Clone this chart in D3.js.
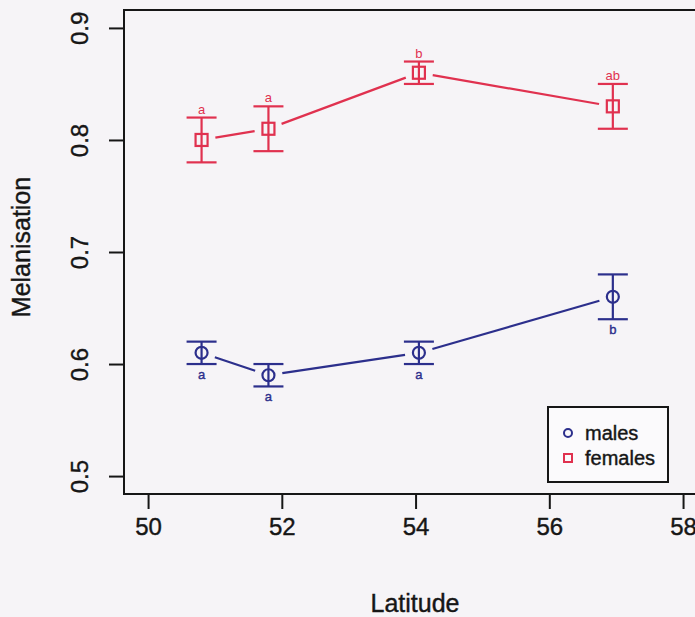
<!DOCTYPE html>
<html>
<head>
<meta charset="utf-8">
<script src="https://cdn.jsdelivr.net/npm/d3@7"></script>
<style>
    body { margin: 0; background: #f6f4f7; }
    svg { display: block; font-family: "Liberation Sans", Arial, sans-serif; }
</style>
</head>
<body>
<div id="chart"></div>
<script>
const latitudes = [50.8, 51.8, 54.05, 56.95]
const malesMean = [0.61, 0.59, 0.61, 0.66]
const malesSE = [0.01, 0.01, 0.01, 0.02]
const malesLetters = ["a", "a", "a", "b"]
const femalesMean = [0.80, 0.81, 0.86, 0.83]
const femalesSE = [0.02, 0.02, 0.01, 0.02]
const femalesLetters = ["a", "a", "b", "ab"]
const xTicks = [50, 52, 54, 56, 58]
const yTicks = [0.5, 0.6, 0.7, 0.8, 0.9]
const seriesNames = ["males", "females"]

const w = 695
const h = 617
const red = "#e0314f"
const blue = "#2c2f8c"
const ink = "#161616"

const xScale = d3.scaleLinear()
    .domain([49.64, 59.36])
    .range([124, 774])

const yScale = d3.scaleLinear()
    .domain([0.484, 0.916])
    .range([494, 10])

const svg = d3.select("#chart")
    .append("svg")
    .attr("width", w)
    .attr("height", h)

const xAxis = d3.axisBottom(xScale)
    .tickValues(xTicks)
    .tickFormat(d3.format("d"))
    .tickSize(15)
    .tickPadding(9)

const yAxis = d3.axisLeft(yScale)
    .tickValues(yTicks)
    .tickFormat(d3.format(".1f"))
    .tickSize(15)

// the photo makes every glyph a little heavier
const heavy = sel => sel.attr("stroke", ink).attr("stroke-width", 0.4)

svg.append("g")
    .attr("transform", "translate(0," + yScale.range()[0] + ")")
    .call(xAxis)
    .call(g => g.select(".domain").remove())
    .call(g => g.selectAll("line").attr("stroke", ink).attr("stroke-width", 2))
    .call(g => g.selectAll("text").attr("fill", ink).style("font-size", "24px").call(heavy))

svg.append("g")
    .attr("transform", "translate(" + xScale.range()[0] + ",0)")
    .call(yAxis)
    .call(g => g.select(".domain").remove())
    .call(g => g.selectAll("line").attr("stroke", ink).attr("stroke-width", 2))
    .call(g => g.selectAll("text")
        .attr("fill", ink)
        .style("font-size", "24px")
        .attr("text-anchor", "middle")
        .attr("transform", "rotate(-90)")
        .attr("x", 0)
        .attr("y", -36)
        .attr("dy", 0)
        .call(heavy))

// plot box, runs off the right edge like the photo
svg.append("rect")
    .attr("x", xScale.range()[0])
    .attr("y", yScale.range()[1])
    .attr("width", xScale.range()[1] - xScale.range()[0])
    .attr("height", yScale.range()[0] - yScale.range()[1])
    .attr("fill", "none")
    .attr("stroke", ink)
    .attr("stroke-width", 2)

svg.append("text")
    .attr("x", 415)
    .attr("y", 612)
    .attr("text-anchor", "middle")
    .attr("fill", ink)
    .style("font-size", "25px")
    .call(heavy)
    .text("Latitude")

svg.append("text")
    .attr("transform", "translate(30,247) rotate(-90)")
    .attr("text-anchor", "middle")
    .attr("fill", ink)
    .style("font-size", "25px")
    .call(heavy)
    .text("Melanisation")

const drawSeries = (means, ses, letters, color, shape, above) => {
    const pts = latitudes.map((lat, i) => ({ x: xScale(lat), y: yScale(means[i]), lo: yScale(means[i] - ses[i]), hi: yScale(means[i] + ses[i]), letter: letters[i] }))
    const g = svg.append("g")
    const gap = 14

    // type="b" style: segments stop short of the symbols
    for (let i = 0; i < pts.length - 1; i++) {
        const a = pts[i], b = pts[i + 1]
        const dx = b.x - a.x, dy = b.y - a.y
        const len = Math.sqrt(dx * dx + dy * dy)
        g.append("line")
            .attr("x1", a.x + dx / len * gap)
            .attr("y1", a.y + dy / len * gap)
            .attr("x2", b.x - dx / len * gap)
            .attr("y2", b.y - dy / len * gap)
            .attr("stroke", color)
            .attr("stroke-width", 2.2)
    }

    const bars = g.selectAll(".bar")
        .data(pts)
        .enter()
        .append("g")
        .attr("stroke", color)
        .attr("stroke-width", 2.2)
        .attr("fill", "none")

    bars.append("line")
        .attr("x1", d => d.x).attr("x2", d => d.x)
        .attr("y1", d => d.lo).attr("y2", d => d.hi)
    bars.append("line")
        .attr("x1", d => d.x - 15).attr("x2", d => d.x + 15)
        .attr("y1", d => d.lo).attr("y2", d => d.lo)
    bars.append("line")
        .attr("x1", d => d.x - 15).attr("x2", d => d.x + 15)
        .attr("y1", d => d.hi).attr("y2", d => d.hi)

    if (shape === "circle") {
        bars.append("circle")
            .attr("cx", d => d.x)
            .attr("cy", d => d.y)
            .attr("r", 6)
    } else {
        bars.append("rect")
            .attr("x", d => d.x - 6)
            .attr("y", d => d.y - 6)
            .attr("width", 12)
            .attr("height", 12)
    }

    g.selectAll(".letter")
        .data(pts)
        .enter()
        .append("text")
        .attr("x", d => d.x)
        .attr("y", d => above ? d.hi - 4 : d.lo + 15)
        .attr("text-anchor", "middle")
        .attr("fill", color)
        .attr("stroke", color)
        .attr("stroke-width", above ? 0 : 0.4)
        .style("font-size", "13px")
        .text(d => d.letter)
}

drawSeries(malesMean, malesSE, malesLetters, blue, "circle", false)
drawSeries(femalesMean, femalesSE, femalesLetters, red, "square", true)

const legend = svg.append("g")
    .attr("transform", "translate(548,407)")

legend.append("rect")
    .attr("width", 120)
    .attr("height", 75)
    .attr("fill", "#fbfafc")
    .attr("stroke", ink)
    .attr("stroke-width", 2)

legend.append("circle")
    .attr("cx", 20).attr("cy", 26).attr("r", 4)
    .attr("fill", "none").attr("stroke", blue).attr("stroke-width", 2)

legend.append("rect")
    .attr("x", 16).attr("y", 47).attr("width", 8).attr("height", 8)
    .attr("fill", "none").attr("stroke", red).attr("stroke-width", 2)

legend.selectAll(".lab")
    .data(seriesNames)
    .enter()
    .append("text")
    .attr("x", 37)
    .attr("y", (d, i) => 33 + i * 25)
    .attr("fill", ink)
    .style("font-size", "20px")
    .call(heavy)
    .text(d => d)
</script>
</body>
</html>
